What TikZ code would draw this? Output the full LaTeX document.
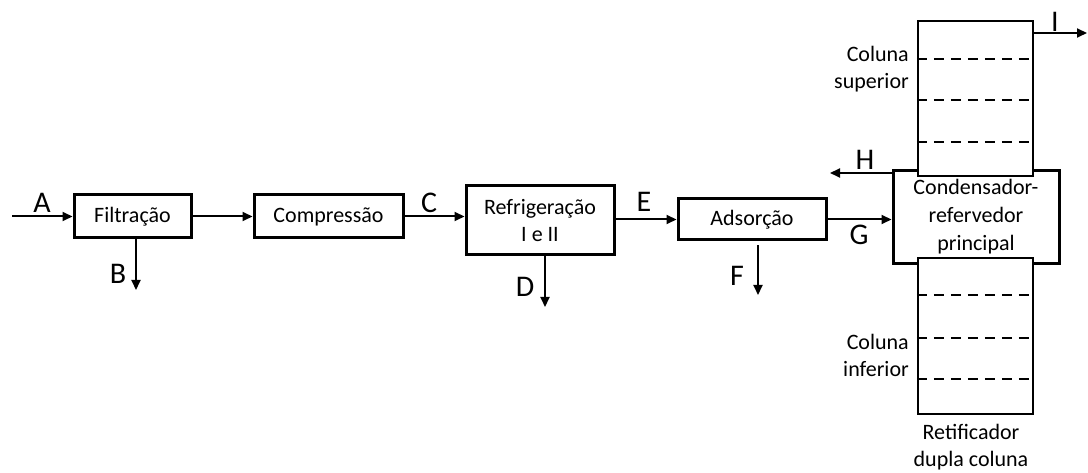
\documentclass[tikz,border=0pt]{standalone}
\usepackage{fontspec}
\setmainfont{Carlito}
\usetikzlibrary{arrows.meta}
\begin{document}
\begin{tikzpicture}[x=1pt,y=-1pt,
  proc/.style={draw,line width=3pt,inner sep=0pt,font=\fontsize{22}{27}\selectfont,align=center},
  col/.style={draw,line width=2.5pt,fill=white,inner sep=0pt},
  flow/.style={line width=2pt,-{Triangle[length=10pt,width=9pt]}},
  lbl/.style={inner sep=0pt,font=\fontsize{30}{36}\selectfont},
  txt/.style={inner sep=0pt,font=\fontsize{22}{27}\selectfont},
  tray/.style={line width=2.5pt,dash pattern=on 10pt off 7pt}]
\useasboundingbox (0,0) rectangle (1088,473);
\fill[white] (0,0) rectangle (1088,473);
% process boxes
\node[proc,minimum width=117pt,minimum height=43pt] (filt) at (132.5,216.5) {Filtração};
\node[proc,minimum width=149pt,minimum height=43pt] (comp) at (328.5,216.5) {Compressão};
\node[proc,minimum width=148pt,minimum height=69pt] (refr) at (540,220.5) {Refrigeração\\I e II};
\node[proc,minimum width=148pt,minimum height=41pt] (ads) at (752,219.5) {Adsorção};
\node[proc,minimum width=166pt,minimum height=93pt,font=\fontsize{22}{28}\selectfont] (cond) at (976,217.5) {};
% columns
\node[col,minimum width=115pt,minimum height=155pt] (up) at (975.5,98.5) {};
\node[col,minimum width=115pt,minimum height=156pt] (low) at (975.5,336) {};
\node[txt,align=center,font=\fontsize{22}{28}\selectfont] (condt) at (976,217) {Condensador-\\refervedor\\principal};
% trays
\foreach \yy in {59,100,142}{\draw[tray] (up.west |- 0,\yy) -- (up.east |- 0,\yy);}
\foreach \yy in {295,338,379}{\draw[tray] (low.west |- 0,\yy) -- (low.east |- 0,\yy);}
% free ends
\coordinate (Astart) at (12,216.5);
\coordinate (Bend) at (136,290);
\coordinate (Dend) at (545,307);
\coordinate (Fend) at (758,295);
\coordinate (Hend) at (830,173);
\coordinate (Iend) at (1087,33);
% connectors
\draw[flow] (Astart) -- (filt.west);
\draw[flow] (filt.east) -- (comp.west);
\draw[flow] (comp.east) -- (comp.east -| refr.west);
\draw[flow] (ads.west -| refr.east) -- (ads.west);
\draw[flow] (ads.east) -- (ads.east -| cond.west);
\draw[flow] (Hend -| cond.west) -- (Hend);
\draw[flow] (Iend -| up.east) -- (Iend);
\draw[flow] (filt.south -| Bend) -- (Bend);
\draw[flow] (refr.south -| Dend) -- (Dend);
\draw[flow] ([yshift=-4pt]ads.south -| Fend) -- (Fend);
% labels
\node[lbl] (lA) at (42,203) {A};
\node[lbl] (lB) at (118,274) {B};
\node[lbl] (lC) at (429,203) {C};
\node[lbl] (lD) at (525,287) {D};
\node[lbl] (lE) at (644,202) {E};
\node[lbl] (lF) at (737,276) {F};
\node[lbl] (lG) at (859,235) {G};
\node[lbl] (lH) at (865,160) {H};
\node[lbl] (lI) at (1055,22) {I};
\node[txt,align=right,anchor=east] (cs) at (909,69) {Coluna\\superior};
\node[txt,align=right,anchor=east] (ci) at (909,355) {Coluna\\inferior};
\node[txt,align=center] (ret) at (971,447) {Retificador\\dupla coluna};
\end{tikzpicture}
\end{document}
